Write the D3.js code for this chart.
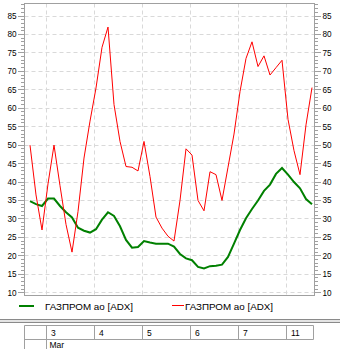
<!DOCTYPE html>
<html><head><meta charset="utf-8">
<script src="https://cdn.jsdelivr.net/npm/d3@7/dist/d3.min.js"></script>
<style>
html,body{margin:0;padding:0;background:#fff;}
svg{display:block;}
text{font-family:"Liberation Sans",Arial,sans-serif;fill:#000;}
</style></head>
<body>
<script>
// ---- data ----
const dayLabels = ["3", "4", "5", "6", "7", "11"];
const dayStartIndex = [3, 11, 19, 27, 35, 43];
const monthLabel = "Mar";
const seriesNames = ["ГАЗПРОМ ао [ADX]", "ГАЗПРОМ ао [ADX]"];
const yTicks = [10,15,20,25,30,35,40,45,50,55,60,65,70,75,80,85];
const greenValues = [34.8,34.0,33.5,35.5,35.5,33.5,31.8,30.4,27.6,26.8,26.3,27.2,29.8,31.8,30.8,28,
  24.3,22.2,22.4,24,23.6,23.3,23.3,23.3,22.5,20.5,19.3,18.8,17,16.6,17.2,17.3,
  17.6,19.7,23.3,27,30.2,32.7,35,37.6,39.3,42.2,43.8,42,40,38.3,35.4,34];
const redValues = [50,36.5,27,39.5,50,39,28.5,21,32,46.5,56.5,65.5,76.5,82,61,51,
  44.2,44,43,51,41.5,30.5,27.5,25.3,24,35,49,47.3,35,32.2,42.8,42,
  35,44,53,64.5,73.5,78,71.3,74.2,69,71,73,57,48.5,42,55.5,65.6];

// ---- layout ----
const W = 340, H = 349;
const L = 24.5, R = 314.5, T = 3.5, B = 295.5;
const svg = d3.select("body").append("svg").attr("width", W).attr("height", H);

const x = d3.scaleLinear().domain([0, 47]).range([30, 312]);
const y = d3.scaleLinear().domain([10, 85]).range([292.7, 16]);
const snap = v => Math.floor(v) + 0.5;

const gridCol = "#d9d9d9", axisCol = "#a0a0a0";

// horizontal grid
svg.append("g").selectAll("line").data(yTicks).join("line")
  .attr("x1", L).attr("x2", R)
  .attr("y1", d => snap(y(d))).attr("y2", d => snap(y(d)))
  .attr("stroke", gridCol).attr("stroke-dasharray", "4,3");

// vertical day grid
const dayX = dayStartIndex.map(i => snap(x(i - 0.25)));
svg.append("g").selectAll("line").data(dayX).join("line")
  .attr("x1", d => d).attr("x2", d => d)
  .attr("y1", T).attr("y2", B)
  .attr("stroke", gridCol).attr("stroke-dasharray", "4,3");

// frame
svg.append("rect").attr("x", L).attr("y", T).attr("width", R - L).attr("height", B - T)
  .attr("fill", "none").attr("stroke", axisCol);

// ticks (minor every 1, major every 5)
const allTicks = d3.range(10, 89);
const tg = svg.append("g").attr("stroke", axisCol);
allTicks.forEach(v => {
  const yy = snap(y(v));
  const major = v % 5 === 0;
  tg.append("line").attr("x1", major ? 18 : 21).attr("x2", L).attr("y1", yy).attr("y2", yy);
  tg.append("line").attr("x1", R).attr("x2", major ? 321 : 318).attr("y1", yy).attr("y2", yy);
});

// tick labels
svg.append("g").selectAll("text").data(yTicks).join("text")
  .attr("x", 16.5).attr("y", d => y(d) + 3)
  .attr("text-anchor", "end").attr("font-size", "8.2px").text(d => d);
svg.append("g").selectAll("text").data(yTicks).join("text")
  .attr("x", 322.5).attr("y", d => y(d) + 3)
  .attr("text-anchor", "start").attr("font-size", "8.2px").text(d => d);

// lines
const line = d3.line().x((d, i) => x(i)).y(d => y(d));
svg.append("path").datum(greenValues).attr("d", line)
  .attr("fill", "none").attr("stroke", "#008000").attr("stroke-width", 2);
svg.append("path").datum(redValues).attr("d", line)
  .attr("fill", "none").attr("stroke", "#ff0000").attr("stroke-width", 1);

// legend
svg.append("line").attr("x1", 19).attr("x2", 34).attr("y1", 306).attr("y2", 306)
  .attr("stroke", "#008000").attr("stroke-width", 2);
svg.append("text").attr("x", 45).attr("y", 310).attr("font-size", "9.8px").text(seriesNames[0]);
svg.append("line").attr("x1", 172).attr("x2", 184).attr("y1", 305.5).attr("y2", 305.5)
  .attr("stroke", "#ff0000").attr("stroke-width", 1);
svg.append("text").attr("x", 185).attr("y", 310).attr("font-size", "9.8px").text(seriesNames[1]);

// separator
[[319.5, "#8a8a8a"], [321, "#c8c8c8"], [322.5, "#8a8a8a"]].forEach(([yy, c]) => {
  svg.append("line").attr("x1", 0).attr("x2", W).attr("y1", yy).attr("y2", yy).attr("stroke", c);
});

// date table
const tab = svg.append("g").attr("stroke", axisCol);
tab.append("line").attr("x1", L).attr("x2", 313.5).attr("y1", 325.5).attr("y2", 325.5);
tab.append("line").attr("x1", L).attr("x2", 313.5).attr("y1", 339.5).attr("y2", 339.5);
tab.append("line").attr("x1", L).attr("x2", L).attr("y1", 325.5).attr("y2", H);
tab.append("line").attr("x1", dayX[0]).attr("x2", dayX[0]).attr("y1", 325.5).attr("y2", H);
dayX.slice(1).concat([313.5]).forEach(xx => {
  tab.append("line").attr("x1", xx).attr("x2", xx).attr("y1", 325.5).attr("y2", 339.5);
});
svg.append("g").selectAll("text").data(dayLabels).join("text")
  .attr("x", (d, i) => dayX[i] + 4.5).attr("y", 335.5)
  .attr("font-size", "8.5px").text(d => d);
svg.append("text").attr("x", dayX[0] + 3).attr("y", 348)
  .attr("font-size", "8.5px").text(monthLabel);
</script>
</body></html>
